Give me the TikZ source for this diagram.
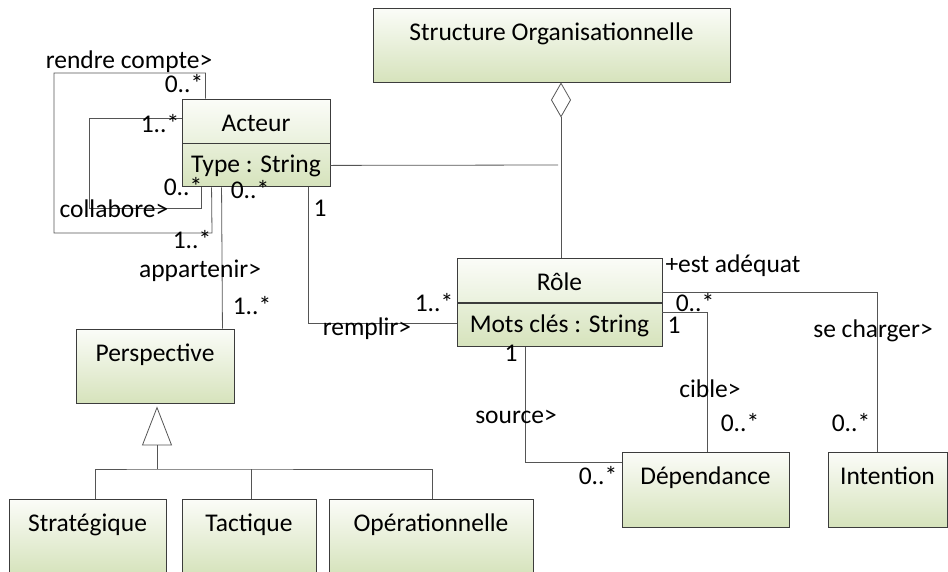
\documentclass[tikz,border=0pt]{standalone}
\usepackage{fontspec}
\setmainfont{Carlito}
\usetikzlibrary{arrows.meta}
\definecolor{boxtop}{HTML}{FBFCF8}
\definecolor{boxmid}{HTML}{EAF1DD}
\definecolor{boxbot}{HTML}{D6E3BC}
\definecolor{edgegray}{HTML}{3C3C3C}
\definecolor{linkgray}{HTML}{555555}
\tikzset{
    classbox/.style={draw=edgegray, line width=0.9pt,
        top color=boxtop, middle color=boxmid, bottom color=boxbot,
        inner xsep=0pt, inner ysep=0pt, text height=32pt, text depth=#1},
    classbox/.default=42pt,
    titlebox/.style={draw=edgegray, line width=0.9pt,
        top color=boxtop, bottom color=boxmid,
        inner xsep=0pt, inner ysep=0pt, text height=32pt, text depth=12pt},
    attrbox/.style={draw=edgegray, line width=0.9pt,
        top color=boxmid!85!boxbot, bottom color=boxbot,
        inner xsep=0pt, inner ysep=0pt, text height=29pt, text depth=14pt},
    link/.style={draw=linkgray, line width=0.8pt},
    lbl/.style={inner sep=0pt, text height=1.4ex, text depth=.3ex}
}

\begin{document}
\begin{tikzpicture}[x=1pt, y=-1pt, font=\fontsize{25.5}{30}\selectfont]
        \useasboundingbox (0,0) rectangle (948,571);
        \clip (0,0) rectangle (948,571);

        % classes
        \node[classbox, minimum width=357pt] (org) at (551.5,45) {Structure Organisationnelle};
        \node[titlebox, minimum width=148pt] (acteur) at (256,121) {Acteur};
        \node[attrbox, minimum width=148pt, anchor=north] (acteurattr) at (acteur.south) {Type : String};
        \node[titlebox, minimum width=205pt] (role) at (559.5,280.5) {Rôle};
        \node[attrbox, minimum width=205pt, anchor=north] (roleattr) at (role.south) {Mots clés : String};
        \node[classbox, minimum width=158pt] (persp) at (155,366) {Perspective};
        \node[classbox=43pt, minimum width=157pt] (strat) at (87.5,536.5) {Stratégique};
        \node[classbox=43pt, minimum width=134pt] (tact) at (249,536.5) {Tactique};
        \node[classbox=43pt, minimum width=204pt] (oper) at (431,536.5) {Opérationnelle};
        \node[classbox=43pt, minimum width=167pt] (dep) at (705.5,489.5) {Dépendance};
        \node[classbox=43pt, minimum width=119pt] (intent) at (887.5,489.5) {Intention};

        \coordinate (aggjoin) at (558,165);
        \coordinate (genjoin) at (157,469);

        % associations
        \draw[link] ([xshift=24pt]acteur.north west) |- (54,73) |- (212,233) -- ([xshift=30pt]acteurattr.south west);
        \draw[link] ([yshift=3pt]acteur.west) -| (89,208) -| ([xshift=20pt]acteurattr.south west);
        \draw[link] ([xshift=40pt]acteurattr.south west) -- ([xshift=-12pt]persp.north east);
        \draw[link] ([xshift=-22pt]acteurattr.south east) |- ([yshift=2pt]roleattr.west);
        \draw[link] (acteurattr.east) -- (aggjoin);
        \draw[link, {Diamond[open, length=35pt, width=20pt]}-] ([xshift=9.5pt]org.south) -- ([xshift=1.5pt]role.north);
        \draw[link] ([yshift=-11.5pt]role.east) -| ([xshift=50pt]intent.north west);
        \draw[link] ([yshift=12.5pt]roleattr.east) -| ([xshift=86pt]dep.north west);
        \draw[link] ([xshift=69pt]roleattr.south west) |- ([yshift=27.5pt]dep.west);

        % generalisation
        \draw[link] ([xshift=7.5pt]strat.north) |- (genjoin) -| ([xshift=1pt]oper.north);
        \draw[link] ([xshift=2pt]tact.north) -- ([xshift=2pt]tact.north |- genjoin);
        \draw[link, -{Triangle[open, length=39pt, width=30pt]}] (genjoin) -- ([xshift=2pt, yshift=-3pt]persp.south);

        % role names and multiplicities
        \node[lbl] (rendre) at (129,66) {rendre compte>};
        \node[lbl] (rendre-a) at (184,90) {0..*};
        \node[lbl] (rendre-b) at (192,246) {1..*};
        \node[lbl] (collab) at (114,215) {collabore>};
        \node[lbl] (collab-a) at (160,130) {1..*};
        \node[lbl] (collab-b) at (183,193) {0..*};
        \node[lbl] (appart) at (200,275) {appartenir>};
        \node[lbl] (appart-a) at (250,196) {0..*};
        \node[lbl] (appart-b) at (252,312) {1..*};
        \node[lbl] (rempl) at (367,333) {remplir>};
        \node[lbl] (rempl-a) at (320,214) {1};
        \node[lbl] (rempl-b) at (434,309) {1..*};
        \node[lbl] (adeq) at (733,270) {+est adéquat};
        \node[lbl] (charg) at (873,335) {se charger>};
        \node[lbl] (charg-b) at (851,429) {0..*};
        \node[lbl] (cible) at (710,395) {cible>};
        \node[lbl] (cible-a) at (695,309) {0..*};
        \node[lbl] (cible-r) at (674,331) {1};
        \node[lbl] (cible-b) at (740,429) {0..*};
        \node[lbl] (source) at (516,421) {source>};
        \node[lbl] (source-a) at (511,359) {1};
        \node[lbl] (source-b) at (598,482) {0..*};
    \end{tikzpicture}
\end{document}
